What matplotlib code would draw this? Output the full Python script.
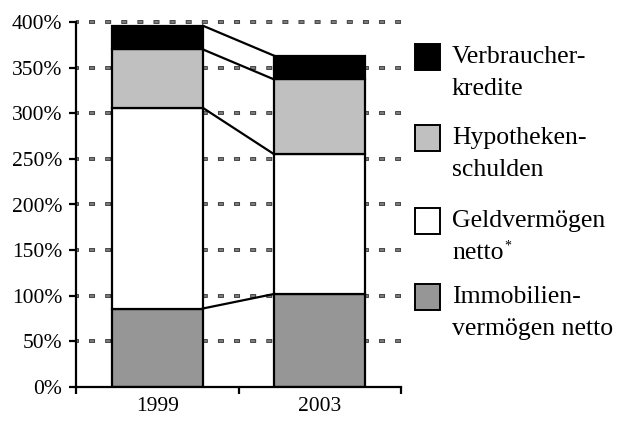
import numpy as np
import matplotlib
matplotlib.use("Agg")
import matplotlib.pyplot as plt
from matplotlib.patches import Rectangle

# data (percent)
years = ["1999", "2003"]
immobilien = [86, 102]
geldvermoegen = [220, 153]
hypotheken = [64, 82]
verbraucher = [26, 26]

series_names = ["Immobilien-\nvermögen netto", "Geldvermögen\nnetto",
                "Hypotheken-\nschulden", "Verbraucher-\nkredite"]
series_colors = ["#969696", "#ffffff", "#c0c0c0", "#000000"]
yticks = [0, 50, 100, 150, 200, 250, 300, 350, 400]

plt.rcParams['font.family'] = ['Liberation Serif', 'DejaVu Serif']
plt.rcParams['lines.scale_dashes'] = False

fig = plt.figure(figsize=(6.22, 4.23), dpi=100)
ax = fig.add_axes([76 / 622, 1 - 387 / 423, 325 / 622, 365 / 423])

data = np.array([immobilien, geldvermoegen, hypotheken, verbraucher])
cum = data.cumsum(axis=0)
x = np.arange(len(years))
width = 0.56

# dashed grid lines (dark outline with grey inside)
for v in yticks[1:]:
    ax.axhline(v, color="#333333", lw=2.7, ls=(2.2, (4.3, 7.3)), zorder=0,
               clip_on=False)
    ax.axhline(v, color="#8a8a8a", lw=1.2, ls=(1.6, (3.1, 8.5)), zorder=0.5,
               clip_on=False)

bottoms = np.zeros(len(years))
for vals, col in zip(data, series_colors):
    ax.bar(x, vals, width, bottom=bottoms, color=col, edgecolor="black",
           linewidth=1.6, zorder=2)
    bottoms = bottoms + vals

# series lines between bars
for level in cum:
    ax.plot([x[0] + width / 2, x[1] - width / 2], [level[0], level[1]],
            color="black", lw=1.6, zorder=3)

ax.set_xlim(-0.5, 1.5)
ax.set_ylim(0, 400)
ax.set_yticks(yticks)
ax.set_yticklabels([f"{v}%" for v in yticks], fontsize=15.5)
ax.set_xticks([-0.5, 0.5, 1.5], minor=False)
ax.set_xticklabels([])
ax.set_xticks(x, minor=True)
ax.set_xticklabels(years, minor=True, fontsize=15.5)
ax.tick_params(axis='x', which='minor', length=0, pad=7)
ax.tick_params(axis='y', which='major', pad=5)
ax.tick_params(axis='both', which='major', length=5, width=1.6)
for s in ["top", "right"]:
    ax.spines[s].set_visible(False)
for s in ["left", "bottom"]:
    ax.spines[s].set_linewidth(1.6)

# legend drawn by hand
legend_y = [297, 221, 138, 57]
texts = []
for name, col, yc in zip(series_names, series_colors, legend_y):
    fig.patches.append(Rectangle((415 / 622, 1 - (yc + 13) / 423), 25 / 622, 26 / 423,
                                 transform=fig.transFigure, facecolor=col,
                                 edgecolor="black", linewidth=1.4))
    line1, line2 = name.split("\n")
    fig.text(452 / 622, 1 - yc / 423, line1, fontsize=18.5, va="center", ha="left")
    texts.append(fig.text(452 / 622, 1 - (yc + 32) / 423, line2, fontsize=18.5,
                          va="center", ha="left"))

# footnote star after "netto"
r = fig.canvas.get_renderer()
bb = texts[1].get_window_extent(renderer=r)
fig.text(bb.x1 / 622 + 1 / 622, (bb.y1 - 4) / 423, "*", fontsize=10,
         va="center", ha="left")

fig.savefig("out.png", dpi=100)
